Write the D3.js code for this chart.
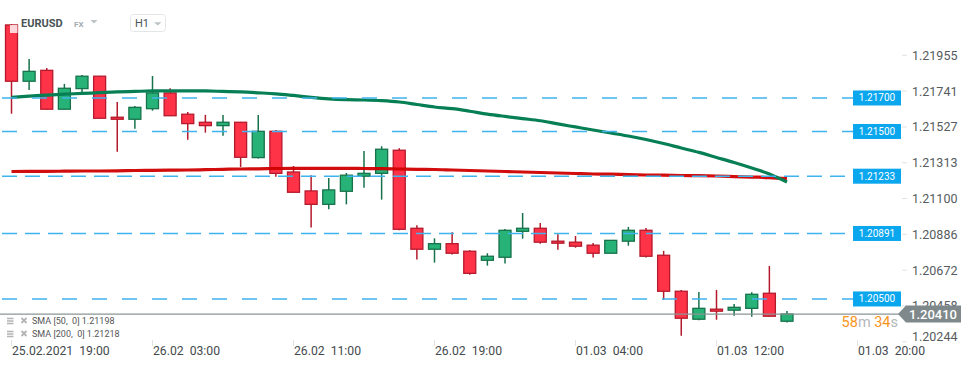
<!DOCTYPE html>
<html>
<head>
<meta charset="utf-8">
<script src="https://cdn.jsdelivr.net/npm/d3@7"></script>
<style>
  body { margin: 0; background: #fff; overflow: hidden; }
  svg { display: block; font-family: Roboto, "Noto Sans", sans-serif; }
</style>
</head>
<body>
<div id="chart"></div>
<script>
// EURUSD H1 candles
var opens  = [1.22136, 1.21800, 1.21865, 1.21633, 1.21756, 1.21830, 1.21585, 1.21573, 1.21636, 1.21730,
              1.21603, 1.21555, 1.21535, 1.21555, 1.21344, 1.21501, 1.21258, 1.21145, 1.21065, 1.21143,
              1.21233, 1.21250, 1.21388, 1.20922, 1.20797, 1.20830, 1.20785, 1.20731, 1.20749, 1.20904,
              1.20922, 1.20845, 1.20839, 1.20821, 1.20773, 1.20845, 1.20910, 1.20761, 1.20546, 1.20379,
              1.20439, 1.20433, 1.20444, 1.20534, 1.20367];
var highs  = [1.22140, 1.21933, 1.21879, 1.21784, 1.21837, 1.21832, 1.21676, 1.21652, 1.21831, 1.21758,
              1.21616, 1.21599, 1.21599, 1.21557, 1.21599, 1.21509, 1.21294, 1.21239, 1.21222, 1.21252,
              1.21384, 1.21412, 1.21400, 1.20940, 1.20862, 1.20898, 1.20791, 1.20773, 1.20918, 1.21013,
              1.20954, 1.20886, 1.20876, 1.20834, 1.20850, 1.20930, 1.20924, 1.20787, 1.20554, 1.20542,
              1.20554, 1.20470, 1.20540, 1.20697, 1.20428];
var lows   = [1.21606, 1.21748, 1.21630, 1.21630, 1.21732, 1.21577, 1.21379, 1.21517, 1.21624, 1.21594,
              1.21451, 1.21493, 1.21475, 1.21288, 1.21338, 1.21230, 1.21137, 1.20926, 1.21036, 1.21065,
              1.21164, 1.21093, 1.20910, 1.20735, 1.20717, 1.20765, 1.20645, 1.20699, 1.20711, 1.20860,
              1.20830, 1.20794, 1.20806, 1.20747, 1.20773, 1.20818, 1.20747, 1.20494, 1.20281, 1.20373,
              1.20376, 1.20400, 1.20394, 1.20394, 1.20359];
var closes = [1.21800, 1.21859, 1.21633, 1.21758, 1.21830, 1.21579, 1.21573, 1.21644, 1.21730, 1.21594,
              1.21547, 1.21535, 1.21555, 1.21346, 1.21501, 1.21250, 1.21137, 1.21065, 1.21151, 1.21239,
              1.21250, 1.21394, 1.20916, 1.20797, 1.20830, 1.20773, 1.20653, 1.20755, 1.20910, 1.20922,
              1.20839, 1.20833, 1.20815, 1.20773, 1.20850, 1.20910, 1.20755, 1.20546, 1.20385, 1.20444,
              1.20427, 1.20450, 1.20528, 1.20397, 1.20410];

// moving averages (one value per candle)
var sma50  = [1.21704, 1.21711, 1.21717, 1.21723, 1.21727, 1.21732, 1.21736, 1.21739, 1.21742, 1.21743,
              1.21743, 1.21742, 1.21739, 1.21736, 1.21731, 1.21725, 1.21715, 1.21704, 1.21695, 1.21690,
              1.21688, 1.21684, 1.21676, 1.21661, 1.21646, 1.21636, 1.21621, 1.21604, 1.21590, 1.21577,
              1.21564, 1.21545, 1.21527, 1.21509, 1.21491, 1.21473, 1.21452, 1.21428, 1.21401, 1.21375,
              1.21345, 1.21315, 1.21282, 1.21246, 1.21198];
var sma200 = [1.21261, 1.21262, 1.21262, 1.21263, 1.21264, 1.21264, 1.21265, 1.21267, 1.21268, 1.21269,
              1.21270, 1.21272, 1.21274, 1.21276, 1.21277, 1.21279, 1.21280, 1.21280, 1.21280, 1.21280,
              1.21279, 1.21278, 1.21276, 1.21274, 1.21273, 1.21270, 1.21267, 1.21264, 1.21261, 1.21258,
              1.21255, 1.21252, 1.21249, 1.21246, 1.21245, 1.21242, 1.21240, 1.21239, 1.21237, 1.21236,
              1.21234, 1.21231, 1.21228, 1.21225, 1.21218];

// horizontal levels drawn on the chart
var levels = [1.21700, 1.21500, 1.21233, 1.20891, 1.20500];
var levelLabels = ["1.21700", "1.21500", "1.21233", "1.20891", "1.20500"];

// axis ticks
var priceTicks = [1.21955, 1.21741, 1.21527, 1.21313, 1.21100, 1.20886, 1.20672, 1.20458, 1.20244];
var timeTickIdx = [0, 8, 16, 24, 32, 40, 48];
var timeLabels = ["25.02.2021  19:00", "26.02  03:00", "26.02  11:00", "26.02  19:00",
                  "01.03  04:00", "01.03  12:00", "01.03  20:00"];

var lastPrice = 1.20410;
var lastLabel = "1.20410";
var countdown = [["58", "num"], ["m", "unit"], [" 34", "num"], ["s", "unit"]];
var legendRows = ["SMA [50,  0] 1.21198", "SMA [200,  0] 1.21218"];

var W = 970, H = 367;
var svg = d3.select("#chart").append("svg")
    .attr("width", W).attr("height", H);

// scales: candle index -> x, price -> y
var x = d3.scaleLinear().domain([0, 44]).range([11.5, 787]);
var y = d3.scaleLinear().domain([1.20243, 1.22285]).range([342, 0]);

var plot = svg.append("g").attr("class", "plot");

// ---- candles ----
var candles = d3.range(opens.length).map(function(i) {
  return { i: i, o: opens[i], h: highs[i], l: lows[i], c: closes[i], up: closes[i] >= opens[i] };
});
var bodyW = 12;

plot.append("g").selectAll("line")
  .data(candles).enter().append("line")
    .attr("x1", function(d) { return x(d.i); })
    .attr("x2", function(d) { return x(d.i); })
    .attr("y1", function(d) { return y(d.h); })
    .attr("y2", function(d) { return y(d.l); })
    .attr("stroke", function(d) { return d.up ? "#17724b" : "#b51a2c"; })
    .attr("stroke-width", 1.5);

plot.append("g").selectAll("rect")
  .data(candles).enter().append("rect")
    .attr("x", function(d) { return x(d.i) - bodyW / 2; })
    .attr("width", bodyW)
    .attr("y", function(d) { return y(Math.max(d.o, d.c)); })
    .attr("height", function(d) { return Math.max(1.5, Math.abs(y(d.o) - y(d.c))); })
    .attr("fill", function(d) { return d.up ? "#27b377" : "#ff3348"; })
    .attr("stroke", function(d) { return d.up ? "#17724b" : "#b51a2c"; })
    .attr("stroke-width", 1.3);

// translucent square over the first candle top
plot.append("rect").attr("x", 10).attr("y", 25).attr("width", 7.5).attr("height", 8)
    .attr("fill", "#fff").attr("opacity", 0.8);

// ---- moving averages ----
var line = d3.line()
  .x(function(d, i) { return x(i); })
  .y(function(d) { return y(d); })
  .curve(d3.curveMonotoneX);

plot.append("path").datum(sma200)
    .attr("d", line).attr("fill", "none")
    .attr("stroke", "#d00000").attr("stroke-width", 3.2).attr("opacity", 0.95);
plot.append("path").datum(sma50)
    .attr("d", line).attr("fill", "none")
    .attr("stroke", "#077f55").attr("stroke-width", 3.2);

// ---- level lines with labels ----
var dashFor = { "1.21233": "15 8", "1.20891": "15 8" };
var lv = plot.append("g").selectAll("g")
  .data(levels).enter().append("g");
lv.append("line")
    .attr("x1", 2).attr("x2", 853)
    .attr("y1", function(d) { return y(d); })
    .attr("y2", function(d) { return y(d); })
    .attr("stroke", "#3fb3ee").attr("stroke-width", 1.4)
    .attr("stroke-dasharray", function(d, i) { return dashFor[levelLabels[i]] || "15 15"; });
lv.append("rect")
    .attr("x", 853).attr("width", 48)
    .attr("y", function(d) { return y(d) - 7.5; })
    .attr("height", 15)
    .attr("fill", "#0aa6ee");
lv.append("text")
    .attr("x", 877).attr("y", function(d) { return y(d) + 3.5; })
    .attr("text-anchor", "middle")
    .attr("fill", "#fff").attr("font-size", "10px")
    .text(function(d, i) { return levelLabels[i]; });

// ---- current price line ----
var yLast = y(lastPrice);
plot.append("line")
    .attr("x1", 0).attr("x2", 900)
    .attr("y1", yLast).attr("y2", yLast)
    .attr("stroke", "#8a9496").attr("stroke-width", 1.2);

// ---- right price axis ----
var axisR = svg.append("g").attr("class", "y axis");
axisR.selectAll("line").data(priceTicks).enter().append("line")
    .attr("x1", 902).attr("x2", 907)
    .attr("y1", function(d) { return y(d); }).attr("y2", function(d) { return y(d); })
    .attr("stroke", "#e2e2e2");
axisR.selectAll("text").data(priceTicks).enter().append("text")
    .attr("x", 912)
    .attr("y", function(d) { return Math.min(y(d), 336) + 4.5; })
    .attr("fill", "#555b5e").attr("font-size", "12.5px")
    .text(function(d) { return d3.format(".5f")(d); });

// last price tag
svg.append("path")
    .attr("d", "M898," + yLast + "L906," + (yLast - 8.5) + "H961V" + (yLast + 8.5) + "H906Z")
    .attr("fill", "#7f898b");
svg.append("text")
    .attr("x", 933).attr("y", yLast + 4.5)
    .attr("text-anchor", "middle")
    .attr("fill", "#fff").attr("font-size", "13px").attr("font-weight", 500)
    .text(lastLabel);

// countdown to candle close
var cd = svg.append("text")
    .attr("x", 898).attr("y", yLast + 13)
    .attr("text-anchor", "end").attr("font-size", "14.5px");
cd.selectAll("tspan").data(countdown).enter().append("tspan")
    .attr("fill", function(d) { return d[1] == "num" ? "#f7941d" : "#b3b8bb"; })
    .attr("xml:space", "preserve")
    .text(function(d) { return d[0]; });

// ---- time axis ----
var axisB = svg.append("g").attr("class", "x axis");
axisB.selectAll("line").data(timeTickIdx).enter().append("line")
    .attr("x1", function(d) { return x(d); }).attr("x2", function(d) { return x(d); })
    .attr("y1", 340).attr("y2", 346)
    .attr("stroke", "#e2e2e2");
axisB.selectAll("text").data(timeTickIdx).enter().append("text")
    .attr("x", function(d) { return x(d) + 0.5; })
    .attr("y", 354.5)
    .attr("fill", "#444a4d").attr("font-size", "12.2px")
    .style("white-space", "pre")
    .text(function(d, i) { return timeLabels[i]; });

// ---- indicator legend ----
var lg = svg.append("g").selectAll("g")
  .data(legendRows).enter().append("g")
    .attr("transform", function(d, i) { return "translate(0," + (324 + i * 13) + ")"; });
lg.append("path")
    .attr("d", "M7,-5.5H13.5M7,-3H13.5M7,-0.5H13.5")
    .attr("stroke", "#b4b4b4").attr("stroke-width", 1.3);
lg.append("path")
    .attr("d", "M21.5,-6L26.5,-1M26.5,-6L21.5,-1")
    .attr("stroke", "#b4b4b4").attr("stroke-width", 1.8);
lg.append("text")
    .attr("x", 32).attr("y", 0)
    .attr("fill", "#555").attr("font-size", "9px")
    .style("white-space", "pre")
    .text(function(d) { return d; });

// ---- header ----
var hd = svg.append("g");
hd.append("text").attr("x", 21).attr("y", 27)
    .attr("fill", "#4a5357").attr("font-size", "11px").attr("font-weight", 700)
    .text("EURUSD");
hd.append("text").attr("x", 74).attr("y", 27)
    .attr("fill", "#a3abaf").attr("font-size", "8px").attr("font-weight", 700)
    .text("FX");
hd.append("path").attr("d", "M90.5,20H97.5L94,23.5Z").attr("fill", "#bcc2c5");
hd.append("rect").attr("x", 130.5).attr("y", 14.5).attr("width", 35).attr("height", 17).attr("rx", 3)
    .attr("fill", "#fff").attr("stroke", "#e3e6e8");
hd.append("text").attr("x", 135).attr("y", 27)
    .attr("fill", "#4a5357").attr("font-size", "11px")
    .text("H1");
hd.append("path").attr("d", "M154,22.3H161.5L157.75,25.5Z").attr("fill", "#bcc2c5");
</script>
</body>
</html>
